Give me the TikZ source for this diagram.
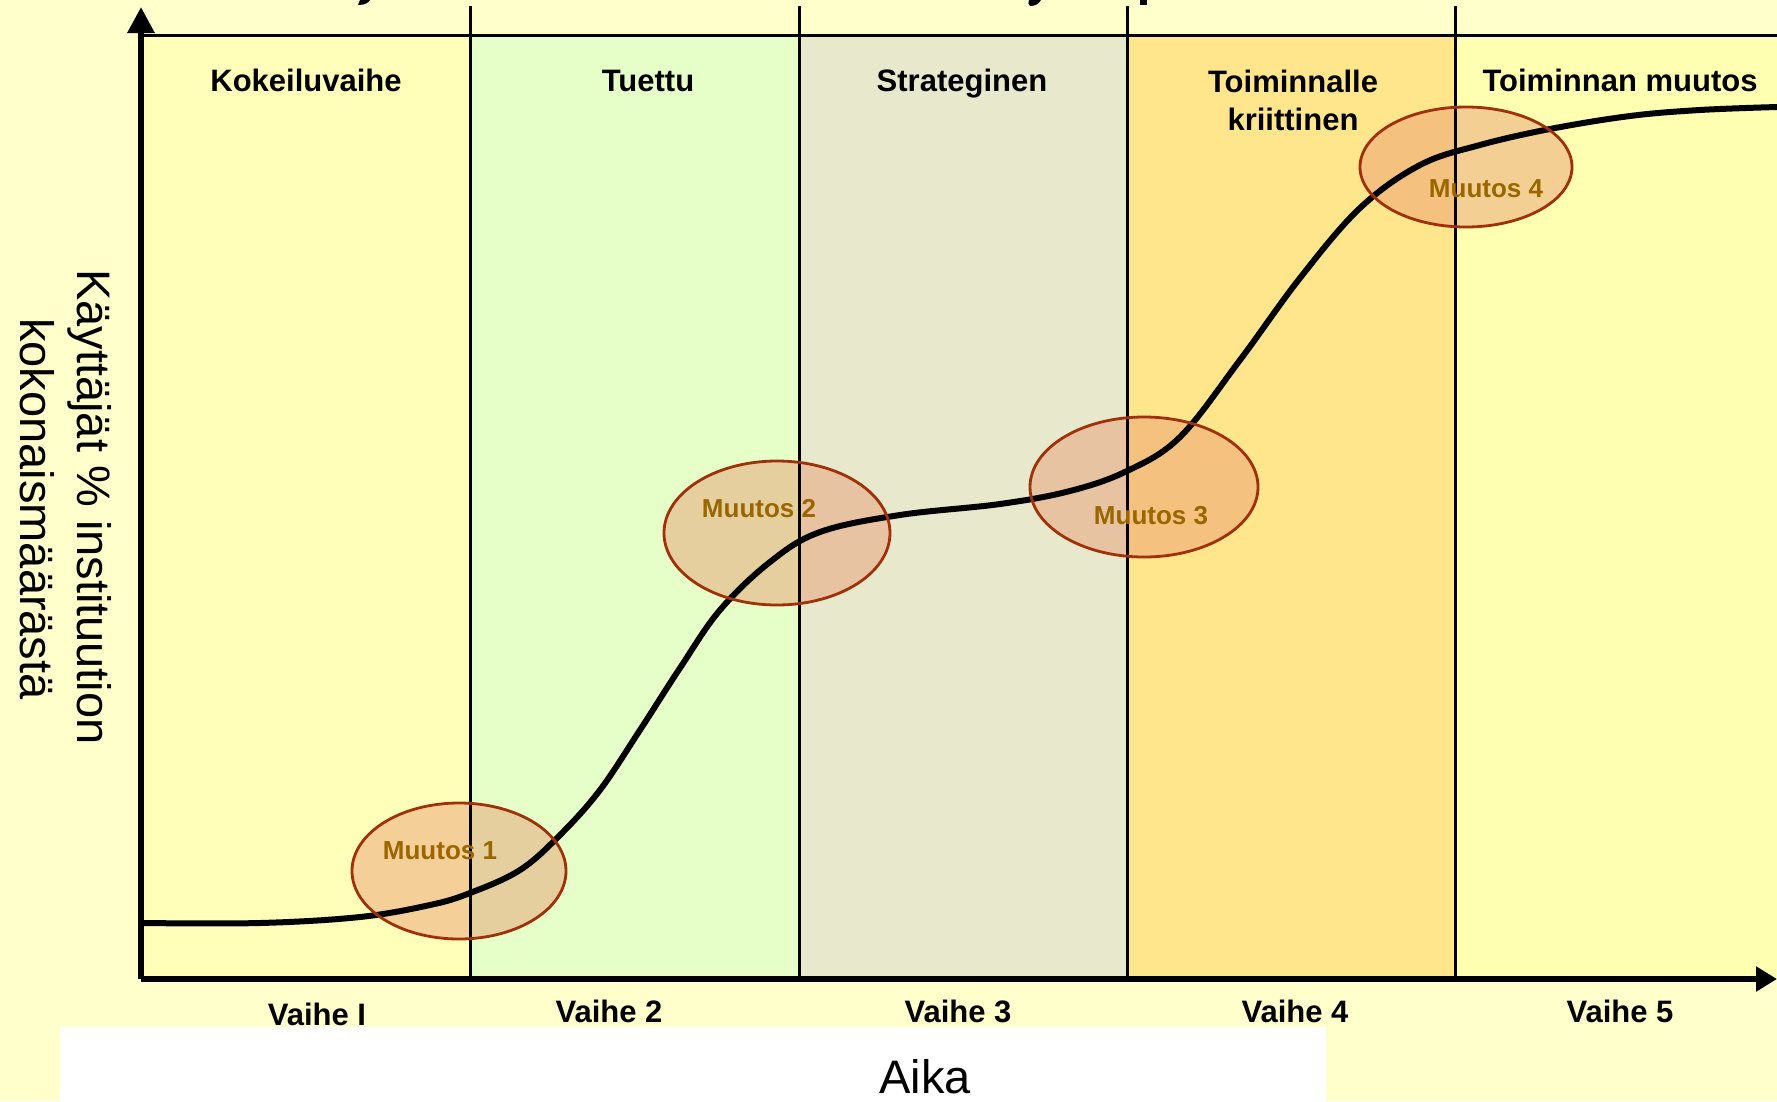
\documentclass[tikz,border=0pt]{standalone}
\usepackage{fontspec}
\setmainfont{Liberation Sans}
\usetikzlibrary{arrows.meta}
\definecolor{bg}{RGB}{255,255,204}
\definecolor{colA}{RGB}{255,255,185}
\definecolor{colB}{RGB}{230,255,200}
\definecolor{colC}{RGB}{232,232,204}
\definecolor{colD}{RGB}{255,230,140}
\definecolor{colE}{RGB}{255,255,178}
\definecolor{ellfill}{RGB}{232,150,110}
\definecolor{elledge}{RGB}{160,48,10}
\definecolor{muutos}{RGB}{153,102,0}
\tikzset{
  hdr/.style={font=\fontsize{31}{38}\selectfont\bfseries, anchor=base, inner sep=0pt},
  vlab/.style={font=\fontsize{31}{38}\selectfont\bfseries, anchor=base, inner sep=0pt},
  mlab/.style={font=\fontsize{26}{30}\selectfont\bfseries, text=muutos, anchor=base, inner sep=0pt},
  biglab/.style={font=\fontsize{47}{54}\selectfont, anchor=base, inner sep=0pt},
  ellshape/.style={fill=ellfill, fill opacity=0.45},
  ellborder/.style={draw=elledge, line width=2.8pt},
  divider/.style={line width=3pt, black},
  curve/.style={line width=6pt, black, line cap=round},
}
\begin{document}
\begin{tikzpicture}[x=1pt,y=-1pt]
\useasboundingbox (0,0) rectangle (1777,1101);
\fill[bg] (0,0) rectangle (1777,1101);
% column fills
\fill[colA] (141,36) rectangle (470,977);
\fill[colB] (470,36) rectangle (799,977);
\fill[colC] (799,36) rectangle (1127,977);
\fill[colD] (1127,36) rectangle (1455,977);
\fill[colE] (1455,36) rectangle (1777,977);
% white box behind Aika
\fill[white] (60,1027) rectangle (1326,1101);
% cut-off title descenders
\fill[black] (360,0) -- (370,0) .. controls (368,3) and (365,5) .. (358,5) -- cycle;
\fill[black] (1029,0) -- (1041,0) .. controls (1039,4) and (1035,6) .. (1030,6) .. controls (1028,5) and (1028,2) .. (1029,0) -- cycle;
\fill[black] (1140,0) rectangle (1147,5);
% ellipse fills
\fill[ellshape] (459,871) ellipse [x radius=107, y radius=68];
\fill[ellshape] (777,533) ellipse [x radius=113, y radius=72];
\fill[ellshape] (1144,487) ellipse [x radius=114, y radius=70];
\fill[ellshape] (1466,167) ellipse [x radius=106, y radius=60];
% top line and dividers
\draw[line width=3pt] (141,35.5) -- (1777,35.5);
\draw[divider] (470,6) -- (470,977);
\draw[divider] (799,6) -- (799,977);
\draw[divider] (1127,6) -- (1127,977);
\draw[divider] (1455,6) -- (1455,977);
% S-curve
\draw[curve] plot[smooth, tension=0.6] coordinates {
 (142,923) (260,923) (360,917) (430,905) (470,893) (520,870) (560,835)
 (600,790) (640,730) (680,668) (720,610) (770,562) (820,532) (900,515)
 (1000,504) (1070,491) (1127,471) (1180,437) (1240,360) (1300,278)
 (1360,208) (1420,165) (1480,145) (1550,129) (1630,116) (1700,110) (1777,107)};
% ellipse borders
\draw[ellborder] (459,871) ellipse [x radius=107, y radius=68];
\draw[ellborder] (777,533) ellipse [x radius=113, y radius=72];
\draw[ellborder] (1144,487) ellipse [x radius=114, y radius=70];
\draw[ellborder] (1466,167) ellipse [x radius=106, y radius=60];
% axes
\coordinate (origin) at (141,979);
\coordinate (ytip) at (141,7);
\coordinate (xtip) at (1777,979);
\draw[line width=6pt, -{Triangle[length=26pt,width=26pt]}] (origin) -- (ytip);
\draw[line width=6pt, -{Triangle[length=21pt,width=24pt]}] (origin) -- (xtip);
% headers
\node[hdr] (h1) at (306,91) {Kokeiluvaihe};
\node[hdr] (h2) at (648,91) {Tuettu};
\node[hdr] (h3) at (962,91) {Strateginen};
\node[hdr] (h4a) at (1293,92) {Toiminnalle};
\node[hdr] (h4b) at (1293,130) {kriittinen};
\node[hdr] (h5) at (1620,91) {Toiminnan muutos};
% change labels
\node[mlab] (m1) at (440,859) {Muutos 1};
\node[mlab] (m2) at (759,517) {Muutos 2};
\node[mlab] (m3) at (1151,524) {Muutos 3};
\node[mlab] (m4) at (1486,197) {Muutos 4};
% phase labels
\node[vlab] (v1) at (317,1025) {Vaihe I};
\node[vlab] (v2) at (609,1022) {Vaihe 2};
\node[vlab] (v3) at (958,1022) {Vaihe 3};
\node[vlab] (v4) at (1295,1022) {Vaihe 4};
\node[vlab] (v5) at (1620,1022) {Vaihe 5};
% axis titles
\node[biglab] (aika) at (925,1093) {Aika};
\node[biglab, rotate=-90] (ylab1) at (77,507) {Käyttäjät \% instituution};
\node[biglab, rotate=-90] (ylab2) at (20,509) {kokonaismäärästä};
\end{tikzpicture}
\end{document}
